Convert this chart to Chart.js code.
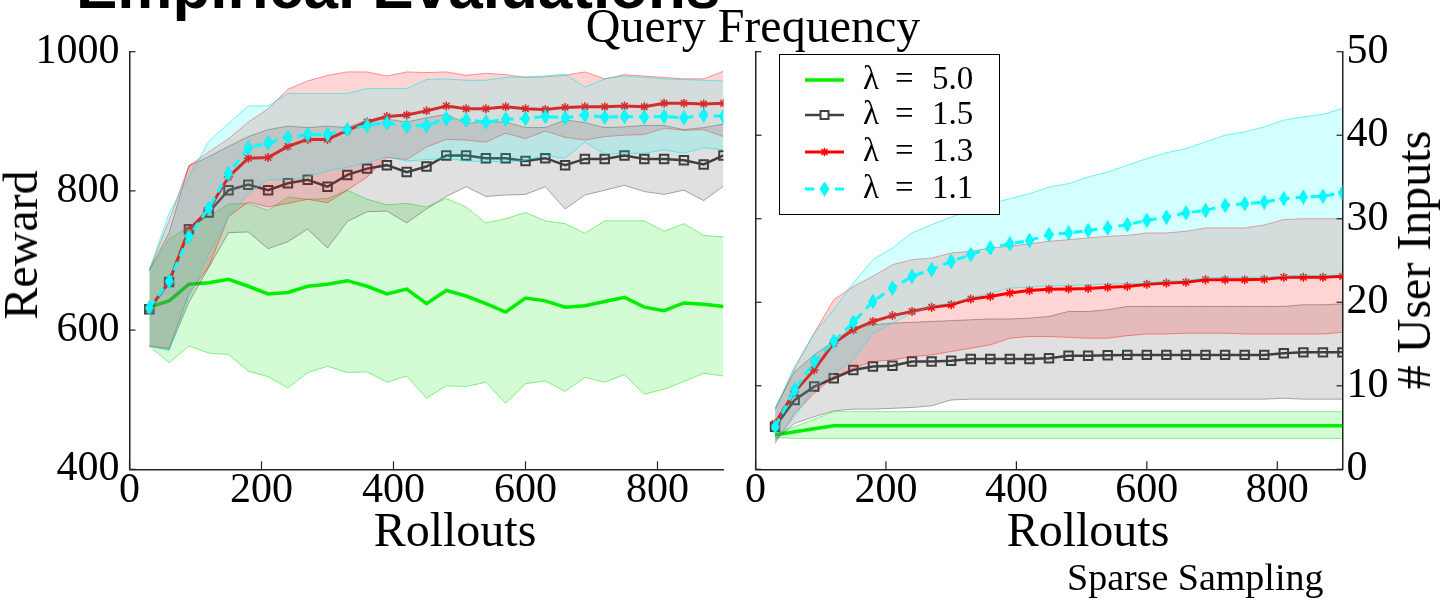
<!DOCTYPE html>
<html><head><meta charset="utf-8">
<script src="https://cdn.jsdelivr.net/npm/chart.js@4/dist/chart.umd.min.js"></script>
<style>
html,body{margin:0;padding:0;background:#fff;width:1440px;height:602px;overflow:hidden;position:relative;}
canvas{position:absolute;top:0;}
.t{position:absolute;white-space:nowrap;line-height:1;color:#000;font-family:"Liberation Serif",serif;}
.rot{transform:translate(-50%,-50%) rotate(-90deg);}
</style></head><body>
<canvas id="left" width="740" height="602" style="left:0px"></canvas>
<canvas id="right" width="700" height="602" style="left:740px"></canvas>
<div class="t" style="font-family:'Liberation Sans',Arial,sans-serif;font-weight:bold;font-size:62px;left:76px;top:-44px">Empirical Evaluations</div>
<div class="t" style="font-size:48px;left:553px;width:400px;text-align:center;top:1.8px">Query Frequency</div>
<div class="t" style="font-size:48px;left:255px;width:400px;text-align:center;top:505.8px">Rollouts</div>
<div class="t" style="font-size:48px;left:888px;width:400px;text-align:center;top:505.8px">Rollouts</div>
<div class="t rot" style="font-size:48px;left:20.8px;top:245px">Reward</div>
<div class="t rot" style="font-size:48px;left:1413.8px;top:260px"># User Inputs</div>
<div class="t" style="font-size:38px;left:1067px;top:558.2px">Sparse Sampling</div>
<script>
// ---------------- data ----------------
const rollouts = [30,60,90,120,150,180,210,240,270,300,330,360,390,420,450,480,510,540,570,600,630,660,690,720,750,780,810,840,870,900];
const xTicks = [0,200,400,600,800];
const rewardTicks = [400,600,800,1000];
const inputTicks = [0,10,20,30,40,50];
const seriesLabels = ['λ = 5.0','λ = 1.5','λ = 1.3','λ = 1.1'];

// Reward (left panel)
const reward50Mean  = [633,642,666,668,673,663,652,654,663,666,671,663,652,659,638,657,649,638,626,646,642,633,635,641,647,633,628,639,637,634];
const reward50Upper = [686,731,748,763,781,782,772,791,788,789,801,788,780,782,777,789,777,754,760,769,757,753,739,757,757,757,742,753,736,734];
const reward50Lower = [577,553,577,567,565,541,533,517,539,548,539,540,525,534,502,520,519,525,495,523,527,512,532,525,536,508,515,526,538,534];
const reward15Mean  = [630,669,745,769,801,809,801,811,816,806,823,832,837,827,835,851,851,847,847,843,847,837,846,846,851,846,846,844,838,851];
const reward15Upper = [686,740,836,849,864,878,888,893,891,893,891,902,903,899,905,910,897,899,899,891,891,902,898,891,892,894,894,888,891,896];
const reward15Lower = [577,572,640,690,740,741,717,727,745,718,756,770,771,754,774,792,806,792,794,795,806,774,794,801,808,799,795,801,786,807];
const reward13Mean  = [631,669,744,773,820,847,848,864,874,874,887,899,907,909,915,922,918,918,921,918,917,920,921,921,922,921,926,926,925,926];
const reward13Upper = [686,758,836,856,875,899,918,946,958,966,971,971,965,971,970,971,966,969,967,963,964,966,971,961,967,965,963,961,961,972];
const reward13Lower = [577,574,653,691,763,784,777,782,788,783,801,820,848,845,863,874,873,870,883,875,886,877,873,878,880,881,890,887,888,878];
const reward11Mean  = [632,670,735,775,825,862,869,877,881,881,888,894,898,893,894,904,902,899,903,904,907,905,909,906,907,906,907,905,909,907];
const reward11Upper = [686,768,820,871,897,922,922,940,940,940,940,947,947,947,960,961,959,959,963,964,965,968,949,961,965,963,961,960,959,958];
const reward11Lower = [577,571,648,710,763,797,816,816,820,829,834,840,849,843,845,847,843,842,842,844,851,847,870,853,854,854,859,854,862,859];

// # User Inputs (right panel)
const inputs50Mean  = [4.1,4.5,4.85,5.2,5.2,5.2,5.2,5.2,5.2,5.2,5.2,5.2,5.2,5.2,5.2,5.2,5.2,5.2,5.2,5.2,5.2,5.2,5.2,5.2,5.2,5.2,5.2,5.2,5.2,5.2];
const inputs50Upper = [4.2,5.1,6.0,6.9,6.9,6.9,6.9,6.9,6.9,6.9,6.9,6.9,6.9,6.9,6.9,6.9,6.9,6.9,6.9,6.9,6.9,6.9,6.9,6.9,6.9,6.9,6.9,6.9,6.9,6.9];
const inputs50Lower = [3.8,3.7,3.7,3.7,3.7,3.7,3.7,3.7,3.7,3.7,3.7,3.7,3.7,3.7,3.7,3.7,3.7,3.7,3.7,3.7,3.7,3.7,3.7,3.7,3.7,3.7,3.7,3.7,3.7,3.7];
const inputs15Mean  = [5.1,8.3,9.9,10.9,11.9,12.3,12.4,12.9,12.9,13.0,13.2,13.2,13.2,13.2,13.3,13.6,13.6,13.65,13.7,13.7,13.7,13.7,13.7,13.7,13.7,13.7,13.9,14.0,14.0,14.0];
const inputs15Upper = [7.3,11.7,13.7,15.3,17.0,17.3,17.5,17.6,17.7,17.8,17.9,18.0,18.0,18.1,18.3,18.9,18.9,19.1,19.5,19.5,19.5,19.5,19.5,19.5,19.5,19.5,19.5,19.7,19.7,19.8];
const inputs15Lower = [3.5,5.5,6.3,7.0,7.2,7.2,7.3,7.4,7.6,8.3,8.4,8.4,8.4,8.4,8.4,8.4,8.4,8.4,8.4,8.4,8.4,8.4,8.4,8.4,8.4,8.4,8.5,8.4,8.4,8.4];
const inputs13Mean  = [5.5,9.3,11.9,15.1,16.7,17.7,18.4,18.9,19.4,19.7,20.4,20.7,21.1,21.4,21.55,21.6,21.65,21.8,21.9,22.15,22.3,22.4,22.7,22.7,22.7,22.75,23.0,23.0,23.0,23.1];
const inputs13Upper = [7.1,12.1,16.3,20.3,21.9,23.1,24.5,25.1,25.3,25.9,26.1,26.5,26.7,27.0,27.3,27.5,27.7,27.9,28.0,28.3,28.3,28.5,28.9,28.9,28.9,29.25,29.9,30.0,30.0,30.0];
const inputs13Lower = [3.1,6.7,9.1,11.1,12.1,12.9,13.1,13.5,13.7,14.1,14.5,14.9,15.7,15.9,15.9,15.8,15.7,15.7,16.0,16.2,16.2,16.3,16.3,16.3,16.2,16.2,16.2,16.2,16.2,16.4];
const inputs11Mean  = [5.1,9.5,12.9,15.3,17.6,20.1,21.7,23.1,23.9,24.9,25.7,26.5,27.0,27.4,28.1,28.3,28.6,28.9,29.3,29.8,30.2,30.7,31.0,31.6,31.8,32.0,32.4,32.6,32.7,33.1];
const inputs11Upper = [7.3,12.3,16.3,19.1,22.3,25.1,26.5,28.3,29.3,30.2,31.0,31.8,32.4,33.0,33.8,34.2,35.0,35.6,36.4,37.2,37.9,38.4,39.2,40.0,40.4,41.0,41.8,42.2,42.5,43.2];
const inputs11Lower = [3.3,6.3,9.7,11.5,13.1,16.3,17.5,18.7,19.5,19.9,20.5,21.1,21.7,21.8,22.0,22.0,22.1,22.2,22.2,22.3,22.5,22.6,22.9,23.0,23.0,23.0,23.1,23.2,23.2,23.3];

// ---------------- styles ----------------
function diamondCanvas(w, h, color) {
  const c = document.createElement('canvas'); c.width = w; c.height = h;
  const g = c.getContext('2d');
  g.beginPath(); g.moveTo(w/2, 0.5); g.lineTo(w-0.5, h/2); g.lineTo(w/2, h-0.5); g.lineTo(0.5, h/2); g.closePath();
  g.fillStyle = color; g.fill();
  g.strokeStyle = '#00e8e8'; g.lineWidth = 1; g.stroke();
  return c;
}
const diamondImg = diamondCanvas(9, 15, '#00ffff');
const styles = [
  {color:'#00ee00', width:3.5, dash:[], point:false, fill:'rgba(0,235,0,0.17)', edge:'rgba(0,220,0,0.45)'},
  {color:'#404040', width:2.5, dash:[], point:'rect', radius:6, pbw:2, fill:'rgba(64,64,64,0.16)', edge:'rgba(70,70,70,0.45)'},
  {color:'#ff0000', width:3, dash:[], point:'star', radius:4.5, pbw:1.5, fill:'rgba(255,0,0,0.17)', edge:'rgba(255,0,0,0.4)'},
  {color:'#00ffff', width:3, dash:[9,6], point:diamondImg, radius:6, pbw:1, fill:'rgba(0,255,255,0.17)', edge:'rgba(0,230,230,0.55)'}
];

function pts(arr) { return rollouts.map((x, i) => ({x: x, y: arr[i]})); }
function buildDatasets(groups, yAxisID) {
  const out = [];
  groups.forEach((g, s) => {
    const st = styles[s];
    const base = s * 3;
    out.push({
      label: seriesLabels[s], data: pts(g[0]), yAxisID,
      borderColor: st.color, backgroundColor: st.point === 'rect' ? 'rgba(0,0,0,0)' : st.color,
      borderWidth: st.width, borderDash: st.dash, tension: 0, fill: false,
      pointStyle: st.point || 'circle', pointRadius: st.point ? st.radius : 0,
      pointBorderWidth: st.pbw || 0, pointBorderColor: st.color,
      pointBackgroundColor: st.point === 'rect' ? 'rgba(0,0,0,0)' : st.color,
      order: 80 - 20 * s
    });
    out.push({
      label: seriesLabels[s] + ' upper', data: pts(g[1]), yAxisID,
      borderColor: st.edge, borderWidth: 1, pointRadius: 0, tension: 0, fill: false,
      order: 70 - 20 * s
    });
    out.push({
      label: seriesLabels[s] + ' lower', data: pts(g[2]), yAxisID,
      borderColor: st.edge, borderWidth: 1, pointRadius: 0, tension: 0,
      fill: base + 1, backgroundColor: st.fill,
      order: 70 - 20 * s
    });
  });
  return out;
}

const innerTicks = {
  id: 'innerTicks',
  afterDatasetsDraw(chart) {
    const ctx = chart.ctx, a = chart.chartArea;
    ctx.save(); ctx.strokeStyle = '#222'; ctx.lineWidth = 1.2;
    Object.values(chart.scales).forEach(sc => {
      sc.ticks.forEach(t => {
        const p = sc.getPixelForValue(t.value);
        ctx.beginPath();
        if (sc.isHorizontal()) { ctx.moveTo(p, a.bottom); ctx.lineTo(p, a.bottom - 8); }
        else if (sc.position === 'left') { ctx.moveTo(a.left, p); ctx.lineTo(a.left + 6, p); }
        else { ctx.moveTo(a.right, p); ctx.lineTo(a.right - 6, p); }
        ctx.stroke();
      });
    });
    ctx.restore();
  }
};

const boxLegend = {
  id: 'boxLegend',
  afterDraw(chart) {
    const ctx = chart.ctx;
    ctx.save();
    ctx.fillStyle = '#fff'; ctx.fillRect(39.5, 54.5, 220, 160);
    ctx.strokeStyle = '#000'; ctx.lineWidth = 1; ctx.strokeRect(39.5, 54.5, 220, 160);
    const rows = [80, 115, 152, 189];
    styles.forEach((st, k) => {
      const y = rows[k];
      ctx.save();
      ctx.strokeStyle = st.color; ctx.lineWidth = st.width; ctx.setLineDash(st.dash);
      ctx.beginPath(); ctx.moveTo(65, y); ctx.lineTo(104, y); ctx.stroke();
      ctx.setLineDash([]);
      if (st.point === 'rect') {
        ctx.lineWidth = 2; ctx.fillStyle = '#fff';
        ctx.fillRect(80.5, y - 4, 8, 8); ctx.strokeRect(80.5, y - 4, 8, 8);
      } else if (st.point === 'star') {
        ctx.lineWidth = 1.5; ctx.beginPath();
        ctx.moveTo(84.5 - 4, y); ctx.lineTo(84.5 + 4, y);
        ctx.moveTo(84.5, y - 4); ctx.lineTo(84.5, y + 4);
        ctx.moveTo(84.5 - 3, y - 3); ctx.lineTo(84.5 + 3, y + 3);
        ctx.moveTo(84.5 - 3, y + 3); ctx.lineTo(84.5 + 3, y - 3);
        ctx.stroke();
      } else if (st.point) {
        ctx.drawImage(st.point, 84.5 - st.point.width / 2, y - st.point.height / 2);
      }
      ctx.restore();
      const parts = seriesLabels[k].split(' ');
      ctx.fillStyle = '#000'; ctx.textBaseline = 'middle'; ctx.textAlign = 'left';
      ctx.font = '33px "Liberation Serif"';
      ctx.fillText(parts[0], 123, y);
      ctx.fillText(parts[1], 155, y);
      ctx.fillText(parts[2], 192, y);
    });
    ctx.restore();
  }
};

const tickFont = {family: 'Liberation Serif', size: 42, lineHeight: 1};
function setTicks(arr) { return (sc) => { sc.ticks = arr.map(v => ({value: v})); }; }
const label = (v) => String(v);

new Chart(document.getElementById('left'), {
  type: 'line',
  data: {datasets: buildDatasets([
    [reward50Mean, reward50Upper, reward50Lower],
    [reward15Mean, reward15Upper, reward15Lower],
    [reward13Mean, reward13Upper, reward13Lower],
    [reward11Mean, reward11Upper, reward11Lower]], 'y')},
  options: {
    responsive: false, animation: false, devicePixelRatio: 1,
    layout: {padding: {left: 0, right: 16.5, top: 51.7, bottom: 0}},
    plugins: {legend: {display: false}, tooltip: {enabled: false}},
    scales: {
      x: {type: 'linear', min: 0, max: 900, afterBuildTicks: setTicks(xTicks), afterFit: (s) => { s.height = 132.7; },
          grid: {display: false, drawTicks: false}, border: {color: '#222', width: 1.5},
          ticks: {font: tickFont, color: '#000', padding: 1, maxRotation: 0, autoSkip: false, callback: label}},
      y: {type: 'linear', min: 400, max: 1000, afterBuildTicks: setTicks(rewardTicks), afterFit: (s) => { s.width = 129.5; },
          grid: {display: false, drawTicks: false}, border: {color: '#222', width: 1.5},
          ticks: {font: tickFont, color: '#000', padding: 10, autoSkip: false, callback: label}}
    }
  },
  plugins: [innerTicks]
});

new Chart(document.getElementById('right'), {
  type: 'line',
  data: {datasets: buildDatasets([
    [inputs50Mean, inputs50Upper, inputs50Lower],
    [inputs15Mean, inputs15Upper, inputs15Lower],
    [inputs13Mean, inputs13Upper, inputs13Lower],
    [inputs11Mean, inputs11Upper, inputs11Lower]], 'y')},
  options: {
    responsive: false, animation: false, devicePixelRatio: 1,
    layout: {padding: {left: 0, right: 0, top: 51.7, bottom: 0}},
    plugins: {legend: {display: false}, tooltip: {enabled: false}},
    scales: {
      x: {type: 'linear', min: 0, max: 900, afterBuildTicks: setTicks(xTicks), afterFit: (s) => { s.height = 132.7; },
          grid: {display: false, drawTicks: false}, border: {color: '#222', width: 1.5},
          ticks: {font: tickFont, color: '#000', padding: 1, maxRotation: 0, autoSkip: false, callback: label}},
      yL: {type: 'linear', position: 'left', min: 0, max: 50, afterBuildTicks: setTicks(inputTicks), afterFit: (s) => { s.width = 15.5; },
          grid: {display: false, drawTicks: false}, border: {color: '#222', width: 1.5},
          ticks: {display: false}},
      y: {type: 'linear', position: 'right', min: 0, max: 50, afterBuildTicks: setTicks(inputTicks), afterFit: (s) => { s.width = 97.5; },
          grid: {display: false, drawTicks: false}, border: {color: '#222', width: 1.5},
          ticks: {font: tickFont, color: '#000', padding: 4, autoSkip: false, callback: label}}
    }
  },
  plugins: [innerTicks, boxLegend]
});
</script>
</body></html>
